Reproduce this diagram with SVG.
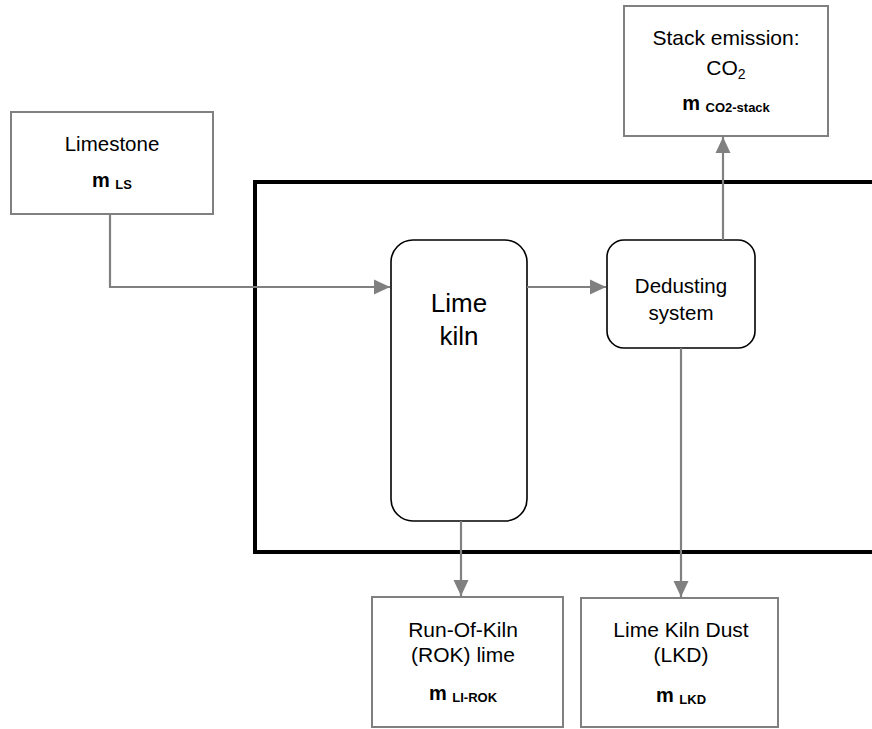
<svg xmlns="http://www.w3.org/2000/svg" width="872" height="729" viewBox="0 0 872 729">
<style>
.box{fill:#fff;stroke:#808080;stroke-width:2}
.proc{fill:#fff;stroke:#000;stroke-width:1.6}
.t{font-family:"Liberation Sans",Arial,sans-serif;fill:#000;text-anchor:middle}
.conn{fill:none;stroke:#808080;stroke-width:2.2}
.b{font-weight:bold}
</style>
<defs>
<marker id="ah" markerWidth="16" markerHeight="16" viewBox="0 0 16 16" refX="16" refY="8" orient="auto" markerUnits="userSpaceOnUse">
<path d="M0,0.5 L16,8 L0,15.5 Z" fill="#808080"/>
</marker>
</defs>
<rect x="255" y="182" width="640" height="370" fill="none" stroke="#000" stroke-width="4"/>
<g id="limestone">
<rect class="box" x="11" y="112" width="202" height="102"/>
<text class="t" x="112" y="151" font-size="20.5">Limestone</text>
<text class="t b" x="112" y="187" font-size="20">m <tspan font-size="13" dy="2">LS</tspan></text>
</g>
<g id="stack">
<rect class="box" x="624" y="6" width="204" height="130"/>
<text class="t" x="726" y="45" font-size="21">Stack emission:</text>
<text class="t" x="726" y="75" font-size="21">CO<tspan font-size="14" dy="4">2</tspan></text>
<text class="t b" x="726" y="110" font-size="20">m <tspan font-size="13" dy="2">CO2-stack</tspan></text>
</g>
<g id="kiln">
<rect class="proc" x="391" y="240" width="136" height="281" rx="22"/>
<text class="t" x="459" y="312" font-size="26">Lime</text>
<text class="t" x="459" y="345" font-size="26">kiln</text>
</g>
<g id="dedusting">
<rect class="proc" x="607" y="240" width="148" height="108" rx="17"/>
<text class="t" x="681" y="293" font-size="20.5">Dedusting</text>
<text class="t" x="681" y="320" font-size="20.5">system</text>
</g>
<g id="rok">
<rect class="box" x="372" y="597" width="191" height="130"/>
<text class="t" x="463" y="637" font-size="21">Run-Of-Kiln</text>
<text class="t" x="463" y="662" font-size="21">(ROK) lime</text>
<text class="t b" x="463" y="700" font-size="20">m <tspan font-size="13" dy="2">LI-ROK</tspan></text>
</g>
<g id="lkd">
<rect class="box" x="581" y="598" width="197" height="129"/>
<text class="t" x="681" y="637" font-size="21">Lime Kiln Dust</text>
<text class="t" x="681" y="662" font-size="21">(LKD)</text>
<text class="t b" x="681" y="702" font-size="20">m <tspan font-size="13" dy="2">LKD</tspan></text>
</g>
<g id="connectors">
<path class="conn" d="M110,214 V287 H390" marker-end="url(#ah)"/>
<path class="conn" d="M527,287 H606" marker-end="url(#ah)"/>
<path class="conn" d="M723,240 V137" marker-end="url(#ah)"/>
<path class="conn" d="M461,521 V596" marker-end="url(#ah)"/>
<path class="conn" d="M681,348 V597" marker-end="url(#ah)"/>
</g>
</svg>
